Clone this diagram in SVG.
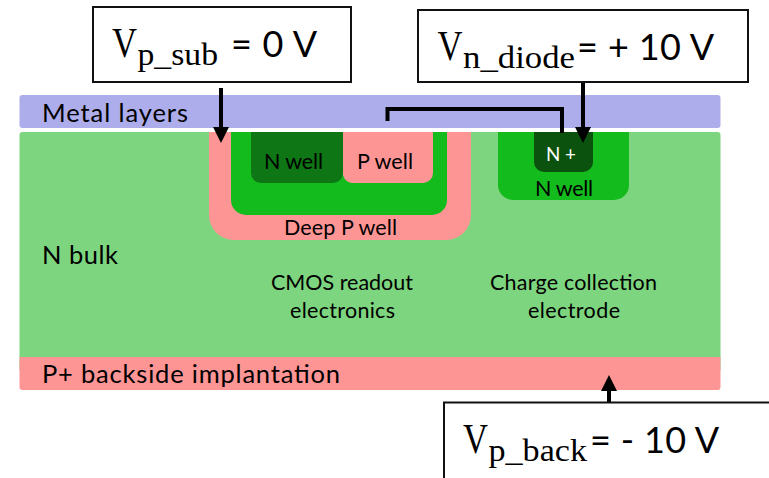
<svg xmlns="http://www.w3.org/2000/svg" width="769" height="478" viewBox="0 0 769 478">
<style>
.t{font-family:Lato,"Open Sans",sans-serif;font-size:25.500px;fill:#000}
.s{font-family:Lato,"Open Sans",sans-serif;font-size:21.500px;fill:#000}
.n{font-family:Lato,"Open Sans",sans-serif;font-size:36px;fill:#000}
.v{font-family:"Liberation Serif",serif;font-size:42px;fill:#000}
.u{font-family:"Liberation Serif",serif;font-size:31px;fill:#000}
.b{fill:#fff;stroke:#111;stroke-width:2}
.c{fill:none;stroke:#000;stroke-width:4}
</style>
<defs>
<marker id="a" markerUnits="userSpaceOnUse" markerWidth="16" markerHeight="16" refX="0" refY="8" orient="auto"><path d="M0 0L16 8L0 16Z" fill="#000"/></marker>
</defs>
<rect width="769" height="478" fill="#fff"/>
<g id="metal"><rect x="19.500" y="95" width="701" height="33" rx="3" fill="#adadeb"/><text class="t" x="42" y="122" textLength="146">Metal layers</text></g>
<g id="bulk"><rect x="19.500" y="132" width="701" height="240" rx="3" fill="#7dd57f"/><text class="t" x="42" y="264" textLength="76">N bulk</text></g>
<g id="backside"><path d="M19.500 357H720.500V387a3 3 0 0 1-3 3H22.500a3 3 0 0 1-3-3Z" fill="#fe9595"/><text class="t" x="42" y="383" textLength="298">P+ backside implantation</text></g>
<g id="deep-p-well"><path d="M209 132H471V215a25 25 0 0 1-25 25H234a25 25 0 0 1-25-25Z" fill="#fe9595"/><text class="s" x="284" y="235" textLength="113">Deep P well</text></g>
<g id="inner-well"><path d="M231 132H447V200a15 15 0 0 1-15 15H246a15 15 0 0 1-15-15Z" fill="#14bb1d"/></g>
<g id="p-well"><path d="M335 132H433V173a10 10 0 0 1-10 10H352a10 10 0 0 1-9-8Z" fill="#fe9595"/><text class="s" x="357" y="169" textLength="56">P well</text></g>
<g id="n-well-left"><path d="M251 132H343V173a10 10 0 0 1-10 10H261a10 10 0 0 1-10-10Z" fill="#0e7614"/><text class="s" x="264" y="169" textLength="59">N well</text></g>
<g id="n-well-right"><path d="M498 132H629V185a15 15 0 0 1-15 15H513a15 15 0 0 1-15-15Z" fill="#14bb1d"/><text class="s" x="535" y="196" textLength="58">N well</text></g>
<g id="n-plus"><path d="M534 132H593V162a10 10 0 0 1-10 10H544a10 10 0 0 1-10-10Z" fill="#0a520e"/><text class="s" x="546" y="161" textLength="30" lengthAdjust="spacingAndGlyphs" style="fill:#fff;font-size:19px">N +</text></g>
<g id="labels"><text class="s" x="271" y="290" textLength="142">CMOS readout</text><text class="s" x="290" y="318" textLength="105">electronics</text><text class="s" x="490" y="290" textLength="167">Charge collection</text><text class="s" x="528" y="318" textLength="92">electrode</text></g>
<g id="connectors">
<path class="c" d="M221 88V127" marker-end="url(#a)"/>
<path class="c" d="M583 82V127" marker-end="url(#a)"/>
<path class="c" d="M609 402V391" marker-end="url(#a)"/>
<path class="c" d="M387.500 121V109H562V133"/>
</g>
<g id="box-sub"><rect class="b" x="93" y="7" width="258" height="75"/><text x="112" y="57" class="v" textLength="25" lengthAdjust="spacingAndGlyphs">V</text><text x="137.500" y="65" class="u" textLength="80.500" lengthAdjust="spacingAndGlyphs">p_sub</text><text x="231" y="57" class="n" textLength="86">= 0 V</text></g>
<g id="box-diode"><rect class="b" x="418" y="10" width="330" height="72"/><text x="437.500" y="60" class="v" textLength="25" lengthAdjust="spacingAndGlyphs">V</text><text x="463" y="68" class="u" textLength="112" lengthAdjust="spacingAndGlyphs">n_diode</text><text x="577" y="60" class="n" textLength="137">= + 10 V</text></g>
<g id="box-back"><rect class="b" x="444" y="402.500" width="340" height="90"/><text x="463" y="453" class="v" textLength="25" lengthAdjust="spacingAndGlyphs">V</text><text x="488.500" y="461" class="u" textLength="98.500" lengthAdjust="spacingAndGlyphs">p_back</text><text x="590" y="453" class="n" textLength="129">= - 10 V</text></g>
</svg>
